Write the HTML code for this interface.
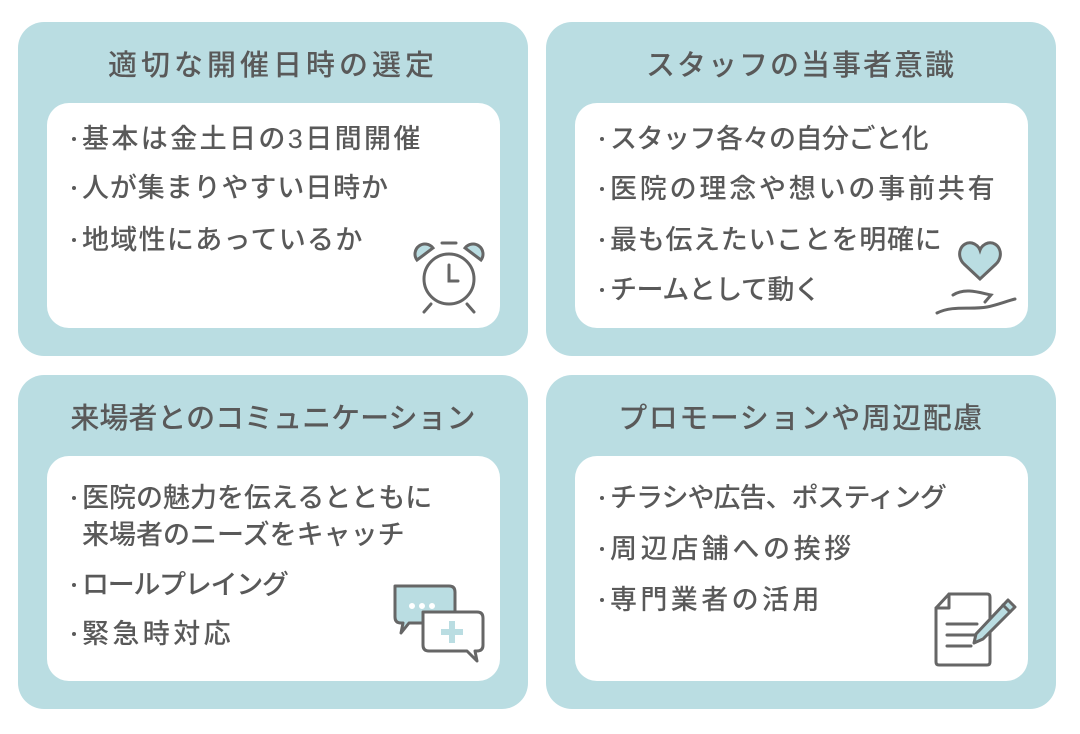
<!DOCTYPE html>
<html><head><meta charset="utf-8"><style>
body{margin:0;width:1080px;height:734px;background:#fff;position:relative;overflow:hidden;font-family:"Liberation Sans","Noto Sans CJK JP",sans-serif;color:#595959}
.card{position:absolute;background:#badde2;border-radius:26px;width:510px;height:334px}
.in{position:absolute;background:#fff;border-radius:22px;left:29px;top:81px;width:453px;height:225px}
.t{position:absolute;left:0;width:100%;top:24px;text-align:center;font-size:29px;font-weight:500;letter-spacing:3px;line-height:40px}
.l{position:absolute;left:35px;font-size:27px;font-weight:500;letter-spacing:2.4px;line-height:36px;white-space:nowrap}
.l.b::before{content:"";position:absolute;left:-10px;top:16px;width:4px;height:4px;border-radius:50%;background:#595959}
svg{position:absolute}
</style></head><body>
<div class="card" style="left:18px;top:22px"><div class="t" style="letter-spacing:4px">適切な開催日時の選定</div><div class="in">
<div class="l b" style="top:18px">基本は金土日の3日間開催</div>
<div class="l b" style="top:67px;letter-spacing:0.9px">人が集まりやすい日時か</div>
<div class="l b" style="top:119px;letter-spacing:1.3px">地域性にあっているか</div>
<svg style="left:362px;top:135px" width="80" height="80" viewBox="0 0 80 80" fill="none" stroke="#666" stroke-width="3" stroke-linecap="round">
<path d="M8 22 A10 10 0 0 1 24 10 Z" fill="#badde2"/><path d="M72 22 A10 10 0 0 0 56 10 Z" fill="#badde2"/>
<line x1="33" y1="5" x2="47" y2="5"/><circle cx="40" cy="41" r="25"/><path d="M40 27 V43 H49"/>
<line x1="22" y1="66" x2="15" y2="74"/><line x1="58" y1="66" x2="65" y2="74"/></svg>
</div></div>
<div class="card" style="left:546px;top:22px"><div class="t" style="letter-spacing:2px">スタッフの当事者意識</div><div class="in">
<div class="l b" style="top:18px;letter-spacing:-0.5px">スタッフ各々の自分ごと化</div>
<div class="l b" style="top:68px;letter-spacing:2.8px">医院の理念や想いの事前共有</div>
<div class="l b" style="top:119px;letter-spacing:0.7px">最も伝えたいことを明確に</div>
<div class="l b" style="top:169px;letter-spacing:-0.5px">チームとして動く</div>
<svg style="left:358px;top:130px" width="90" height="85" viewBox="0 0 90 85" fill="none" stroke="#666" stroke-width="3" stroke-linecap="round">
<path d="M47 46 L31 31 C22 22 28 8 39 10 C43 11 46 14 47 17 C48 14 51 11 55 10 C66 8 72 22 63 31 Z" fill="#badde2"/>
<path d="M20 62 C32 54 48 60 58 62 L52 69"/><path d="M4 80 C20 72 38 77 54 74 C64 72 74 68 82 66"/></svg>
</div></div>
<div class="card" style="left:18px;top:375px"><div class="t" style="letter-spacing:0">来場者とのコミュニケーション</div><div class="in">
<div class="l b" style="top:24px;letter-spacing:0">医院の魅力を伝えるとともに</div>
<div class="l" style="left:35px;top:61px;letter-spacing:0">来場者のニーズをキャッチ</div>
<div class="l b" style="top:111px;letter-spacing:-1.3px">ロールプレイング</div>
<div class="l b" style="top:160px;letter-spacing:3.4px">緊急時対応</div>
<svg style="left:342px;top:125px" width="100" height="90" viewBox="0 0 100 90" fill="none" stroke="#666" stroke-width="3" stroke-linejoin="round">
<path d="M6 5 H60 Q66 5 66 11 V36 Q66 42 60 42 H20 L12 52 L14 42 H12 Q6 42 6 36 Z" fill="#badde2"/>
<circle cx="23" cy="25" r="1.5" fill="#fff" stroke="#fff"/><circle cx="33" cy="25" r="1.5" fill="#fff" stroke="#fff"/><circle cx="43" cy="25" r="1.5" fill="#fff" stroke="#fff"/>
<path d="M34 31 H88 Q94 31 94 37 V64 Q94 70 88 70 H86 L88 80 L78 70 H40 Q34 70 34 64 Z" fill="#fff"/>
<path d="M60 40 h6 v8 h8 v6 h-8 v8 h-6 v-8 h-8 v-6 h8 z" fill="#badde2" stroke="none"/></svg>
</div></div>
<div class="card" style="left:546px;top:375px"><div class="t" style="letter-spacing:1.5px">プロモーションや周辺配慮</div><div class="in">
<div class="l b" style="top:24px;letter-spacing:-1px">チラシや広告、ポスティング</div>
<div class="l b" style="top:75px;letter-spacing:3.6px">周辺店舗への挨拶</div>
<div class="l b" style="top:126px;letter-spacing:3.4px">専門業者の活用</div>
<svg style="left:356px;top:134px" width="90" height="80" viewBox="0 0 90 80" fill="none" stroke="#666" stroke-width="3" stroke-linejoin="round" stroke-linecap="round">
<path d="M18 4 H56 Q59 4 59 7 V72 Q59 75 56 75 H8 Q5 75 5 72 V18 Z"/><path d="M18 4 V18 H5"/>
<line x1="16" y1="34" x2="46" y2="34"/><line x1="16" y1="45" x2="46" y2="45"/><line x1="16" y1="56" x2="40" y2="56"/>
<path d="M77 10 L84 17 L52 49 L43 53 L45 44 Z" fill="#badde2"/><line x1="72" y1="15" x2="79" y2="22"/></svg>
</div></div>
</body></html>
